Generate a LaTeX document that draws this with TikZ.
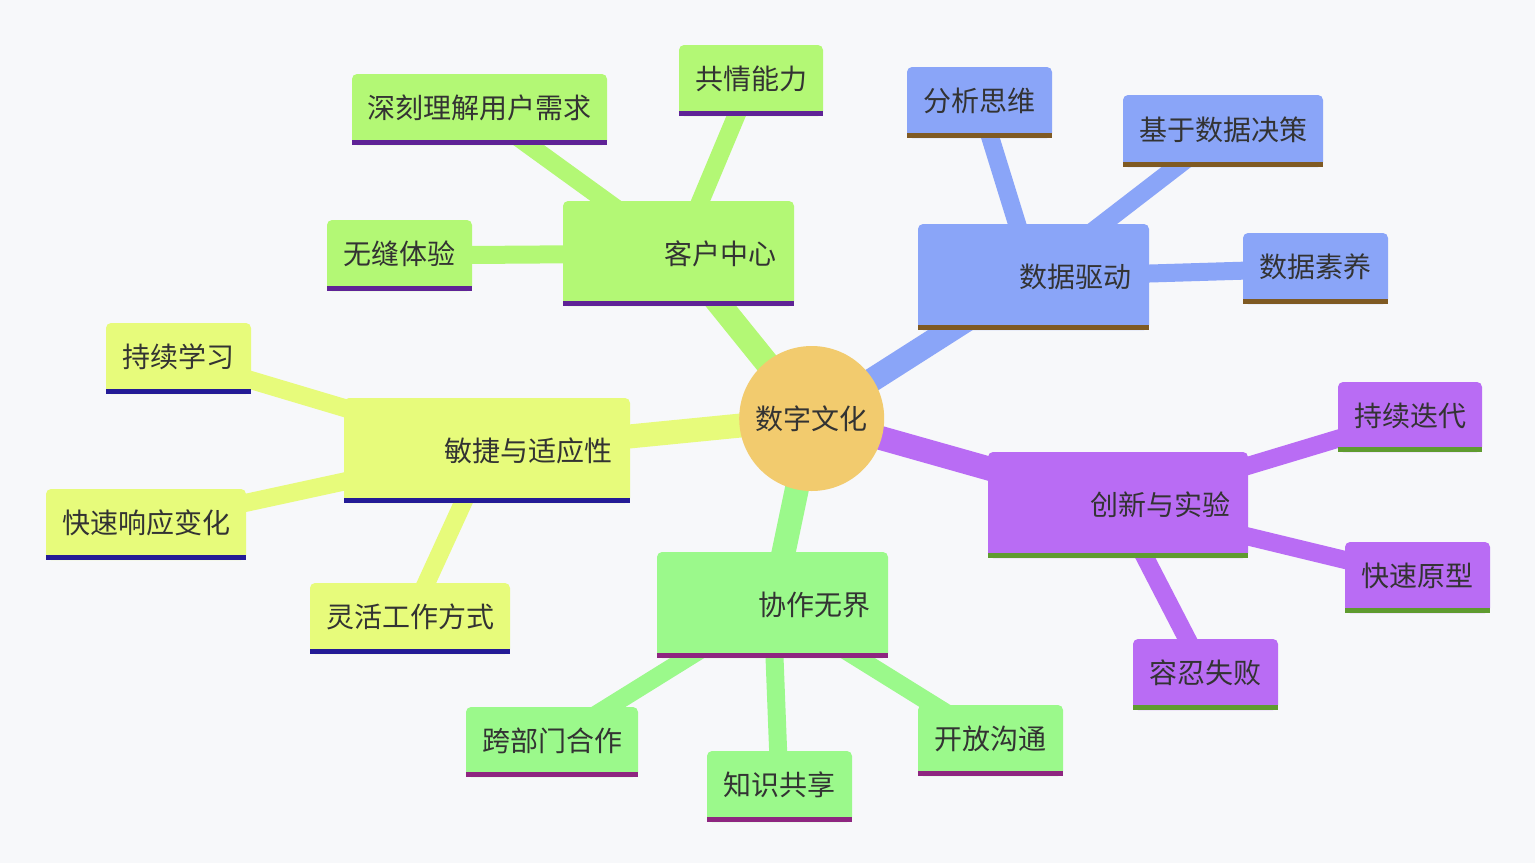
\documentclass[tikz,border=0pt]{standalone}
\usepackage{fontspec}
\newfontfamily\cjk{Noto Sans CJK SC}
\pgfdeclarelayer{background}
\pgfdeclarelayer{canvas}
\pgfsetlayers{canvas,background,main}
\definecolor{bgc}{HTML}{F7F8FA}
\definecolor{txt}{HTML}{333333}
\definecolor{rootc}{HTML}{F2CB6E}
\definecolor{fA}{HTML}{B3F875}\definecolor{uA}{HTML}{5F2396}
\definecolor{fB}{HTML}{8AA5F8}\definecolor{uB}{HTML}{7F5A23}
\definecolor{fC}{HTML}{B96CF4}\definecolor{uC}{HTML}{5F9B2F}
\definecolor{fD}{HTML}{9BF98B}\definecolor{uD}{HTML}{8E2680}
\definecolor{fE}{HTML}{E7FB7B}\definecolor{uE}{HTML}{241B96}
\tikzset{
  mmtext/.style={font=\cjk\fontsize{28}{32}\selectfont, text=txt},
  leafbox/.style={mmtext, rectangle, rounded corners=5pt, inner sep=0pt, align=center},
  mainbox/.style={mmtext, rectangle, rounded corners=5pt, inner sep=0pt, align=right},
  rootnode/.style={mmtext, circle, fill=rootc, minimum size=145pt, inner sep=0pt},
  mainlink/.style={line width=24pt},
  leaflink/.style={line width=18pt},
}
% #1 name, #2 x1, #3 y1, #4 x2, #5 y2, #6 fill, #7 underline, #8 text
\newcommand{\leafnode}[8]{%
  \node[leafbox, fill=#6, minimum width={(#4)-(#2)}, minimum height={(#5)-(#3)}]
    (#1) at ({((#2)+(#4))/2},{((#3)+(#5))/2}) {\raisebox{5.5pt}{#8}};
  \fill[#7] (#1.south west) rectangle ([yshift=5pt]#1.south east);
}
\newcommand{\mainnode}[8]{%
  \node[mainbox, fill=#6, minimum width={(#4)-(#2)}, minimum height={(#5)-(#3)},
        text width={(#4)-(#2)-35}]
    (#1) at ({((#2)+(#4))/2},{((#3)+(#5))/2}) {\raisebox{2pt}{#8}};
  \fill[#7] (#1.south west) rectangle ([yshift=5pt]#1.south east);
}
\begin{document}
\begin{tikzpicture}[x=1pt,y=-1pt]
\begin{pgfonlayer}{canvas}
\fill[bgc] (0,0) rectangle (1535,863);
\end{pgfonlayer}
\useasboundingbox (0,0) rectangle (1535,863);

\node[rootnode] (root) at (811.7,418.5) {\raisebox{1pt}{数字文化}};

% customer
\mainnode{kh}{563}{201}{794}{306}{fA}{uA}{客户中心}
\leafnode{sk}{352}{74}{607}{145}{fA}{uA}{深刻理解用户需求}
\leafnode{gq}{679}{45}{823}{116}{fA}{uA}{共情能力}
\leafnode{wf}{327}{220}{472}{291}{fA}{uA}{无缝体验}

% data
\mainnode{sj}{918}{224}{1149}{330}{fB}{uB}{数据驱动}
\leafnode{fx}{907}{67}{1052}{138}{fB}{uB}{分析思维}
\leafnode{jy}{1123}{95}{1323}{167}{fB}{uB}{基于数据决策}
\leafnode{sy}{1243}{233}{1388}{304}{fB}{uB}{数据素养}

% innovation
\mainnode{cx}{988}{452}{1248}{558}{fC}{uC}{创新与实验}
\leafnode{cd}{1338}{382}{1482}{452}{fC}{uC}{持续迭代}
\leafnode{ks}{1345}{542}{1490}{613}{fC}{uC}{快速原型}
\leafnode{rr}{1133}{639}{1278}{710}{fC}{uC}{容忍失败}

% collaboration
\mainnode{xz}{657}{552}{888}{658}{fD}{uD}{协作无界}
\leafnode{kb}{466}{707}{638}{777}{fD}{uD}{跨部门合作}
\leafnode{zs}{707}{751}{852}{822}{fD}{uD}{知识共享}
\leafnode{kf}{918}{705}{1063}{776}{fD}{uD}{开放沟通}

% agile
\mainnode{mj}{344}{398}{630}{503}{fE}{uE}{敏捷与适应性}
\leafnode{xx}{106}{323}{251}{394}{fE}{uE}{持续学习}
\leafnode{ky}{46}{489}{246}{560}{fE}{uE}{快速响应变化}
\leafnode{lh}{310}{583}{510}{654}{fE}{uE}{灵活工作方式}

\begin{pgfonlayer}{background}
  \draw[mainlink, fA] (root.center) -- (kh.center);
  \draw[mainlink, fB] (root.center) -- (sj.center);
  \draw[mainlink, fC] (root.center) -- (cx.center);
  \draw[mainlink, fD] (root.center) -- (xz.center);
  \draw[mainlink, fE] (root.center) -- (mj.center);
  \draw[leaflink, fA] (kh.center) -- (sk.center);
  \draw[leaflink, fA] (kh.center) -- (gq.center);
  \draw[leaflink, fA] (kh.center) -- (wf.center);
  \draw[leaflink, fB] (sj.center) -- (fx.center);
  \draw[leaflink, fB] (sj.center) -- (jy.center);
  \draw[leaflink, fB] (sj.center) -- (sy.center);
  \draw[leaflink, fC] (cx.center) -- (cd.center);
  \draw[leaflink, fC] (cx.center) -- (ks.center);
  \draw[leaflink, fC] (cx.center) -- (rr.center);
  \draw[leaflink, fD] (xz.center) -- (kb.center);
  \draw[leaflink, fD] (xz.center) -- (zs.center);
  \draw[leaflink, fD] (xz.center) -- (kf.center);
  \draw[leaflink, fE] (mj.center) -- (xx.center);
  \draw[leaflink, fE] (mj.center) -- (ky.center);
  \draw[leaflink, fE] (mj.center) -- (lh.center);
\end{pgfonlayer}
\end{tikzpicture}
\end{document}
